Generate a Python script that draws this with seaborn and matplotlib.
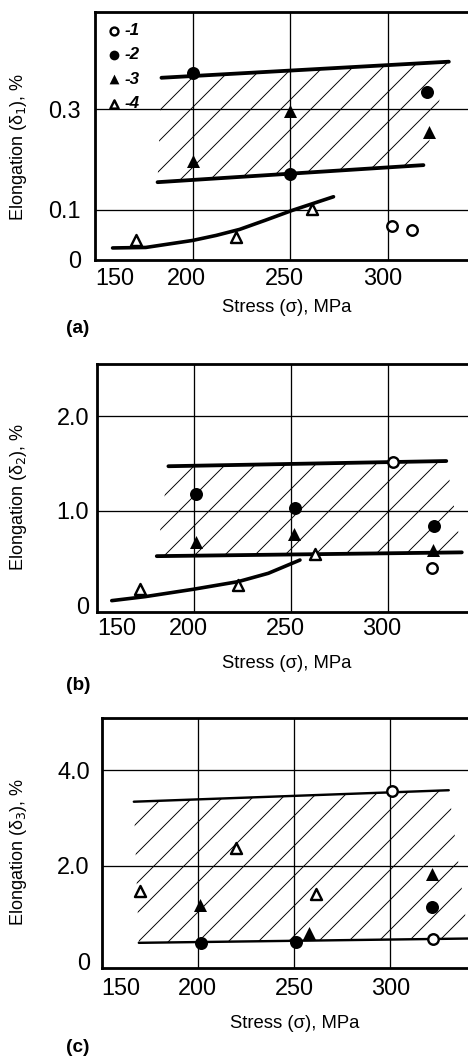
import numpy as np
import pandas as pd
import matplotlib
matplotlib.use("Agg")
import matplotlib.pyplot as plt
import seaborn as sns
from matplotlib.transforms import ScaledTranslation

# ---------------- data ----------------
stress_ticks = [150, 200, 250, 300]
stress_tick_labels = ["150", "200", "250", "300"]

# (a) elongation delta_1
a_t1_x = [302, 312];       a_t1_y = [0.068, 0.060]
a_t2_x = [200, 250, 320];  a_t2_y = [0.373, 0.171, 0.334]
a_t3_x = [200, 250, 321];  a_t3_y = [0.197, 0.296, 0.254]
a_t4_x = [171, 222, 261];  a_t4_y = [0.039, 0.045, 0.102]
a_upper_x = [184, 331];    a_upper_y = [0.363, 0.395]
a_lower_x = [182, 318];    a_lower_y = [0.155, 0.189]
a_curve_x = [159, 176, 200, 212, 224, 237, 251, 272]
a_curve_y = [0.024, 0.025, 0.039, 0.049, 0.061, 0.079, 0.099, 0.126]
a_yticks = [0, 0.1, 0.3];  a_ytick_labels = ["0", "0.1", "0.3"]

# (b) elongation delta_2
b_t1_x = [302.6, 322.7];        b_t1_y = [1.51, 0.40]
b_t2_x = [201, 252, 323.7];     b_t2_y = [1.18, 1.025, 0.84]
b_t3_x = [201, 251.5, 323.3];   b_t3_y = [0.67, 0.75, 0.585]
b_t4_x = [172, 222.5, 262.4];   b_t4_y = [0.17, 0.215, 0.54]
b_upper_x = [186.8, 330];       b_upper_y = [1.47, 1.525]
b_lower_x = [180.8, 338];       b_lower_y = [0.52, 0.56]
b_curve_x = [157.6, 174.7, 199.6, 222.8, 238.3, 254.6]
b_curve_y = [0.050, 0.092, 0.170, 0.251, 0.339, 0.479]
b_yticks = [0, 1.0, 2.0];  b_ytick_labels = ["0", "1.0", "2.0"]

# (c) elongation delta_3
c_t1_x = [301.2, 322.1];        c_t1_y = [3.57, 0.46]
c_t2_x = [201.4, 250.8, 321.8]; c_t2_y = [0.39, 0.41, 1.13]
c_t3_x = [201, 257.7, 322];     c_t3_y = [1.18, 0.59, 1.83]
c_t4_x = [169.9, 220, 261.5];   c_t4_y = [1.48, 2.38, 1.42]
c_upper_x = [166.7, 330.5];     c_upper_y = [3.34, 3.58]
c_lower_x = [169.3, 340.7];     c_lower_y = [0.39, 0.48]
c_yticks = [0, 2.0, 4.0];  c_ytick_labels = ["0", "2.0", "4.0"]

legend_labels = ["-1", "-2", "-3", "-4"]

# ---------------- style ----------------
W, H, DPI = 468, 1057, 90
sns.set_style("white")
plt.rcParams["font.family"] = ["Liberation Sans", "DejaVu Sans"]
plt.rcParams["text.color"] = "black"
plt.rcParams["hatch.linewidth"] = 0.75
plt.rcParams["hatch.color"] = "black"


def pt(px):
    return px * 72.0 / DPI


fig = plt.figure(figsize=(W / DPI, H / DPI), dpi=DPI)


def rect(l, t, r, b):
    return [l / W, 1 - b / H, (r - l) / W, (b - t) / H]


def panel(box, xlim, ylim, yticks, ylabels, series, upper, lower, curve,
          band_lw, ylabel_txt, ylab_y, xlab_xy, tag_xy, tag, xlab_shift,
          ypad, xpad, legend=False):
    ax = fig.add_axes(rect(*box))
    ax.set_xlim(*xlim)
    ax.set_ylim(*ylim)

    # hatched scatter band
    hx = list(upper[0]) + list(lower[0])[::-1]
    hy = list(upper[1]) + list(lower[1])[::-1]
    ax.fill(hx, hy, facecolor="none", edgecolor="black", hatch="/", linewidth=0)

    for xs, ys in (upper, lower):
        sns.lineplot(x=xs, y=ys, ax=ax, color="black", lw=pt(band_lw),
                     solid_capstyle="round", estimator=None, sort=False)
    if curve is not None:
        sns.lineplot(x=curve[0], y=curve[1], ax=ax, color="black", lw=pt(3.6),
                     solid_capstyle="round", solid_joinstyle="round",
                     estimator=None, sort=False)

    styles = [
        dict(marker="o", facecolor="white", edgecolor="black", linewidth=pt(2.4), s=pt(10.5) ** 2),
        dict(marker="o", color="black", edgecolor="black", linewidth=0, s=pt(13) ** 2),
        dict(marker="^", color="black", edgecolor="black", linewidth=0, s=pt(13) ** 2),
        dict(marker="^", facecolor="white", edgecolor="black", linewidth=pt(2.4), s=pt(11) ** 2),
    ]
    for (xs, ys), st, lab in zip(series, styles, legend_labels):
        sns.scatterplot(x=xs, y=ys, ax=ax, label=lab, zorder=5, **st)

    if legend:
        ax.legend(loc="upper left", bbox_to_anchor=(0.0, 1.0), frameon=False,
                  handletextpad=0.2, labelspacing=0.55, borderaxespad=0.2,
                  borderpad=0.45, handlelength=0.9, markerscale=0.75,
                  prop=dict(size=pt(17), weight="bold", style="italic"))
    else:
        ax.legend().remove()

    # grid and frame
    ax.set_xticks(stress_ticks)
    ax.set_xticklabels(stress_tick_labels)
    ax.set_yticks(yticks)
    ax.set_yticklabels(ylabels)
    ax.grid(True, color="black", lw=pt(1.3))
    ax.yaxis.get_gridlines()[0].set_visible(False)
    ax.xaxis.get_gridlines()[0].set_visible(False)
    ax.tick_params(length=0, labelsize=pt(23.5), colors="black")
    ax.tick_params(axis="y", pad=pt(ypad))
    ax.tick_params(axis="x", pad=pt(xpad))
    for s in ("left", "bottom", "top"):
        ax.spines[s].set_color("black")
        ax.spines[s].set_linewidth(pt(2.8))
    ax.spines["right"].set_visible(False)
    xl = ax.get_xticklabels()
    xl[0].set_ha("left")
    for lab in xl[1:]:
        lab.set_transform(lab.get_transform() + ScaledTranslation(xlab_shift / DPI, 0, fig.dpi_scale_trans))
    ax.set_xlabel("")
    ax.set_ylabel("")

    fig.text(19 / W, 1 - ylab_y / H, ylabel_txt, rotation=90, ha="center", va="center",
             fontsize=pt(18))
    fig.text(xlab_xy[0] / W, 1 - xlab_xy[1] / H, "Stress (σ), MPa", ha="center", va="center",
             fontsize=pt(18.5))
    fig.text(tag_xy[0] / W, 1 - tag_xy[1] / H, tag, ha="center", va="center",
             fontsize=pt(19), fontweight="bold")
    return ax


panel((95, 12, 468, 260), (150.5, 340.8), (0.003, 0.494), a_yticks, a_ytick_labels,
      [(a_t1_x, a_t1_y), (a_t2_x, a_t2_y), (a_t3_x, a_t3_y), (a_t4_x, a_t4_y)],
      (a_upper_x, a_upper_y), (a_lower_x, a_lower_y), (a_curve_x, a_curve_y),
      3.8, "Elongation (δ$_1$), %", 147, (287, 308), (78, 328), "(a)", -6,
      14, 8, legend=True)

panel((97, 364, 468, 612), (150, 341.2), (-0.07, 2.55), b_yticks, b_ytick_labels,
      [(b_t1_x, b_t1_y), (b_t2_x, b_t2_y), (b_t3_x, b_t3_y), (b_t4_x, b_t4_y)],
      (b_upper_x, b_upper_y), (b_lower_x, b_lower_y), (b_curve_x, b_curve_y),
      3.8, "Elongation (δ$_2$), %", 497, (287, 663), (78, 685), "(b)", -6,
      8, 6)

panel((101.7, 718, 468, 967.7), (150.4, 340.5), (-0.13, 5.09), c_yticks, c_ytick_labels,
      [(c_t1_x, c_t1_y), (c_t2_x, c_t2_y), (c_t3_x, c_t3_y), (c_t4_x, c_t4_y)],
      (c_upper_x, c_upper_y), (c_lower_x, c_lower_y), None,
      2.4, "Elongation (δ$_3$), %", 852, (295, 1023), (78, 1047), "(c)", 0,
      12, 10)

fig.savefig("out.png", dpi=DPI, facecolor="white")
